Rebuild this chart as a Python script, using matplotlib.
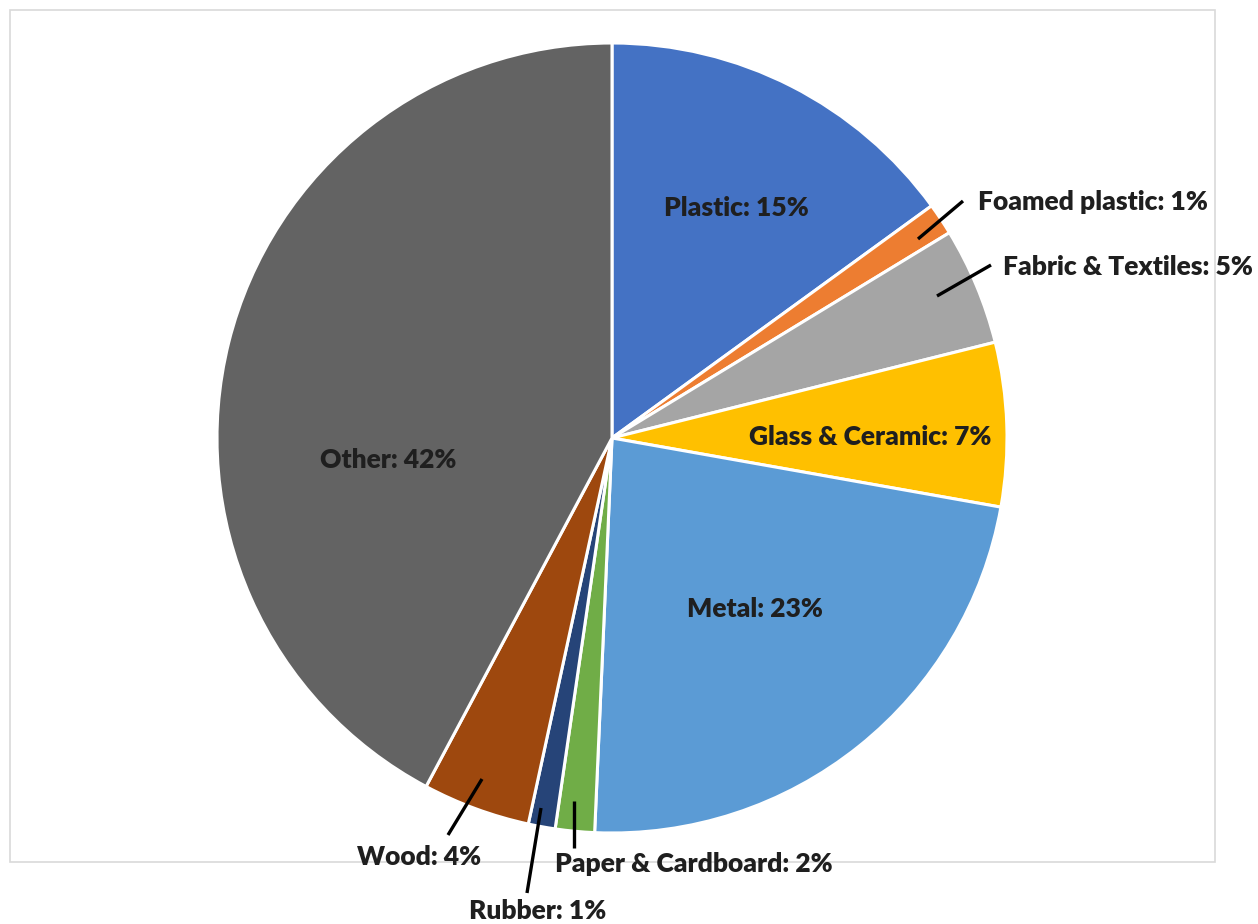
import matplotlib.pyplot as plt
from matplotlib.patches import Rectangle

plt.rcParams['font.family'] = ['Lato', 'DejaVu Sans']

categories = ['Plastic', 'Foamed plastic', 'Fabric & Textiles', 'Glass & Ceramic',
              'Metal', 'Paper & Cardboard', 'Rubber', 'Wood', 'Other']
shares = [15.0, 1.3, 4.8, 6.7, 22.9, 1.6, 1.1, 4.4, 42.2]
colors = ['#4472C4', '#ED7D31', '#A5A5A5', '#FFC000', '#5B9BD5',
          '#70AD47', '#264478', '#9E480E', '#636363']

W, H = 1258, 924


def px(x, y):
    # pixel position (from top-left) -> data coords
    return (x, H - y)


fig = plt.figure(figsize=(W / 100, H / 100), dpi=100)
ax = fig.add_axes([0, 0, 1, 1])
ax.set_xlim(0, W)
ax.set_ylim(0, H)
ax.set_aspect('equal')
ax.axis('off')

# chart border
ax.add_patch(Rectangle(px(10, 862), 1205, 852, fill=False,
                       edgecolor='#d9d9d9', linewidth=1.2))

wedges, _ = ax.pie(shares, colors=colors, startangle=90, counterclock=False,
                   center=px(612, 438), radius=395,
                   wedgeprops=dict(edgecolor='white', linewidth=2.2))
ax.set_xlim(0, W)
ax.set_ylim(0, H)

labels = ['%s: %.0f%%' % (c, s) for c, s in zip(categories, shares)]
txt = dict(fontsize=19, fontweight='heavy', color='#1f1f1f')

# labels inside slices
inside = {0: (736, 208), 3: (870, 437), 4: (755, 609), 8: (388, 460)}
for i, (x, y) in inside.items():
    ax.text(*px(x, y), labels[i], ha='center', va='center', **txt)

# labels outside with leader lines: (text pos, ha, line start, line end)
outside = {
    1: ((978, 202), 'left', (918, 239), (963, 201)),
    2: ((1003, 267), 'left', (937, 296), (991, 265)),
    5: ((555, 864), 'left', (574, 801), (574, 848)),
    6: ((538, 911), 'center', (541, 808), (527, 893)),
    7: ((419, 857), 'center', (482, 779), (448, 835)),
}
for i, (tp, ha, p0, p1) in outside.items():
    ax.plot(*zip(px(*p0), px(*p1)), color='black', linewidth=2.4,
            solid_capstyle='butt')
    ax.text(*px(*tp), labels[i], ha=ha, va='center', **txt)

fig.savefig('out.png', dpi=100)
